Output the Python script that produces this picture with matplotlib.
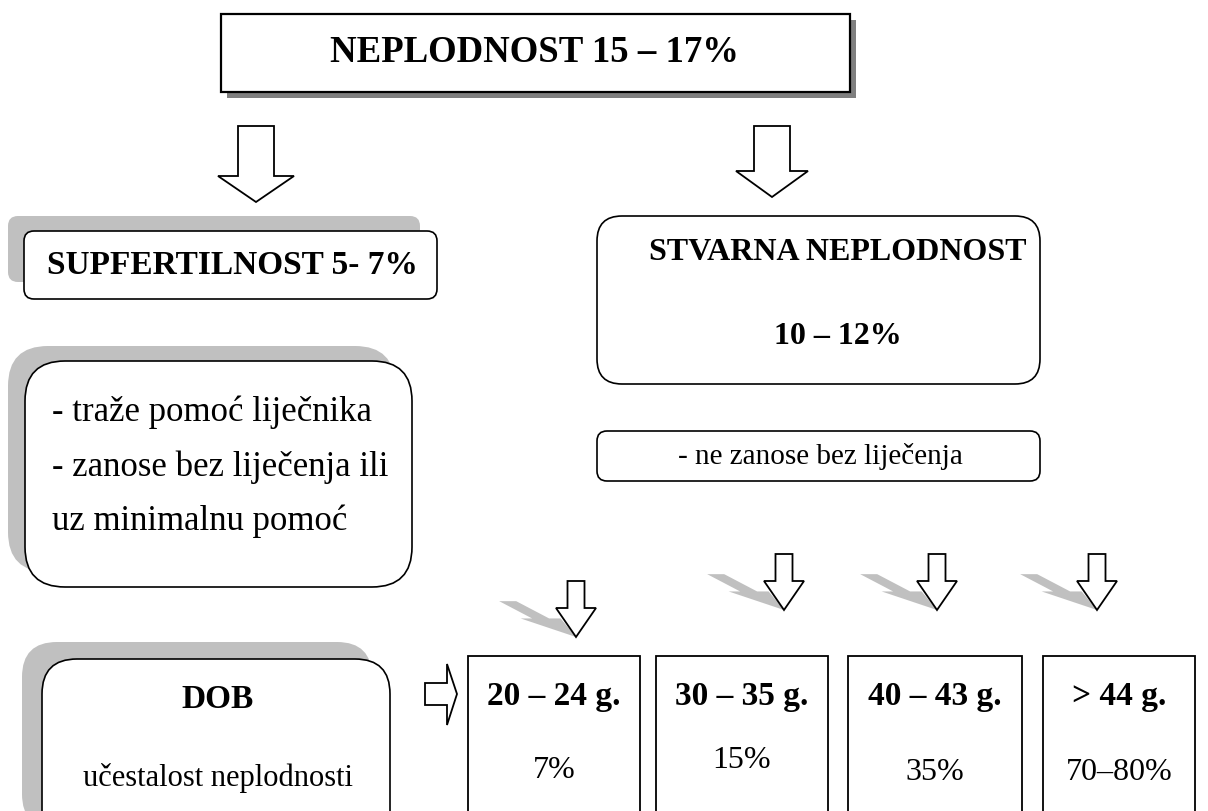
import matplotlib
matplotlib.use("Agg")
import matplotlib.pyplot as plt
from matplotlib.patches import FancyBboxPatch, Polygon, Rectangle

# ---- content ----
title_text = "NEPLODNOST 15 – 17%"
subfert_text = "SUPFERTILNOST 5- 7%"
subfert_notes = ["- traže pomoć liječnika", "- zanose bez liječenja ili", "uz minimalnu pomoć"]
real_title = ["STVARNA NEPLODNOST", "10 – 12%"]
real_note = "- ne zanose bez liječenja"
dob_title = "DOB"
dob_sub = "učestalost neplodnosti"
age_groups = ["20 – 24 g.", "30 – 35 g.", "40 – 43 g.", "> 44 g."]
age_rates = ["7%", "15%", "35%", "70–80%"]

W, H = 1208, 812
FONT = "Liberation Serif"
LIGHT = "#c0c0c0"

fig = plt.figure(figsize=(W / 100, H / 100), dpi=100)
ax = fig.add_axes([0, 0, 1, 1])
ax.set_xlim(0, W)
ax.set_ylim(H, 0)
ax.axis("off")


def rbox(x0, y0, x1, y1, r, fc="white", ec="black", lw=1.2, z=2):
    p = FancyBboxPatch((x0, y0), x1 - x0, y1 - y0,
                       boxstyle=f"round,pad=0,rounding_size={r}",
                       fc=fc, ec=ec, lw=lw, zorder=z)
    ax.add_patch(p)


def down_arrow_pts(cx, top, head_y, tip, sw, hw):
    return [(cx - sw, top), (cx + sw, top), (cx + sw, head_y), (cx + hw, head_y),
            (cx, tip), (cx - hw, head_y), (cx - sw, head_y)]


def down_arrow(cx, top, head_y, tip, sw, hw, shadow=False):
    pts = down_arrow_pts(cx, top, head_y, tip, sw, hw)
    if shadow:
        sp = [(x - 1.22 * (tip - y), tip - 0.64 * (tip - y)) for x, y in pts]
        ax.add_patch(Polygon(sp, closed=True, fc=LIGHT, ec="none", zorder=1))
    ax.add_patch(Polygon(pts, closed=True, fc="white", ec="black", lw=1.3,
                         joinstyle="miter", zorder=3))


def txt(x, y, s, size, bold=False, ha="center"):
    ax.text(x, y, s, fontsize=size, fontfamily=FONT,
            fontweight="bold" if bold else "normal",
            ha=ha, va="center", zorder=5)


# ---- top title box with dark shadow ----
ax.add_patch(Rectangle((227, 21), 629, 78, fc="#7f7f7f", ec="none", zorder=1))
ax.add_patch(Rectangle((221, 15), 629, 78, fc="white", ec="black", lw=1.6, zorder=2))
txt(535, 53, title_text, 26.5, bold=True)

# ---- top arrows ----
down_arrow(256, 127, 177, 203, 18, 38)
down_arrow(772, 127, 172, 198, 18, 36)

# ---- left branch ----
rbox(8, 217, 420, 283, 10, fc=LIGHT, ec="none", z=1)
rbox(24, 232, 437, 300, 10)
txt(232, 266, subfert_text, 24, bold=True)

rbox(8, 347, 395, 573, 40, fc=LIGHT, ec="none", z=1)
rbox(25, 362, 412, 588, 40)
for yy, s in zip([412, 467, 521], subfert_notes):
    txt(52, yy, s, 25, ha="left")

# ---- right branch ----
rbox(597, 217, 1040, 385, 25)
txt(838, 252, real_title[0], 23, bold=True)
txt(838, 337, real_title[1], 23, bold=True)

rbox(597, 432, 1040, 482, 10)
txt(820, 457, real_note, 21)

# ---- four lower arrows with oblique shadows ----
arrow_cx = [576, 784, 937, 1097]
arrow_top = [582, 555, 555, 555]
for cx, tp in zip(arrow_cx, arrow_top):
    tip = tp + 56
    down_arrow(cx, tp, tip - 29, tip, 8.5, 20, shadow=True)

# ---- DOB box ----
rbox(22, 643, 372, 830, 35, fc=LIGHT, ec="none", z=1)
rbox(42, 660, 390, 848, 35)
txt(218, 700, dob_title, 24, bold=True)
txt(218, 778, dob_sub, 22)

# right arrow
ra = [(425, 684), (447, 684), (447, 665), (457, 695), (447, 726), (447, 706), (425, 706)]
ax.add_patch(Polygon(ra, closed=True, fc="white", ec="black", lw=1.3,
                     joinstyle="miter", zorder=3))

# ---- age boxes ----
box_x = [(468, 640), (656, 828), (848, 1022), (1043, 1195)]
rate_y = [771, 761, 773, 773]
for (x0, x1), lab, rate, ry in zip(box_x, age_groups, age_rates, rate_y):
    ax.add_patch(Rectangle((x0, 657), x1 - x0, 200, fc="white", ec="black", lw=1.3, zorder=2))
    cx = (x0 + x1) / 2
    txt(cx, 697, lab, 24, bold=True)
    txt(cx, ry, rate, 23)

fig.savefig("out.png", dpi=100)
